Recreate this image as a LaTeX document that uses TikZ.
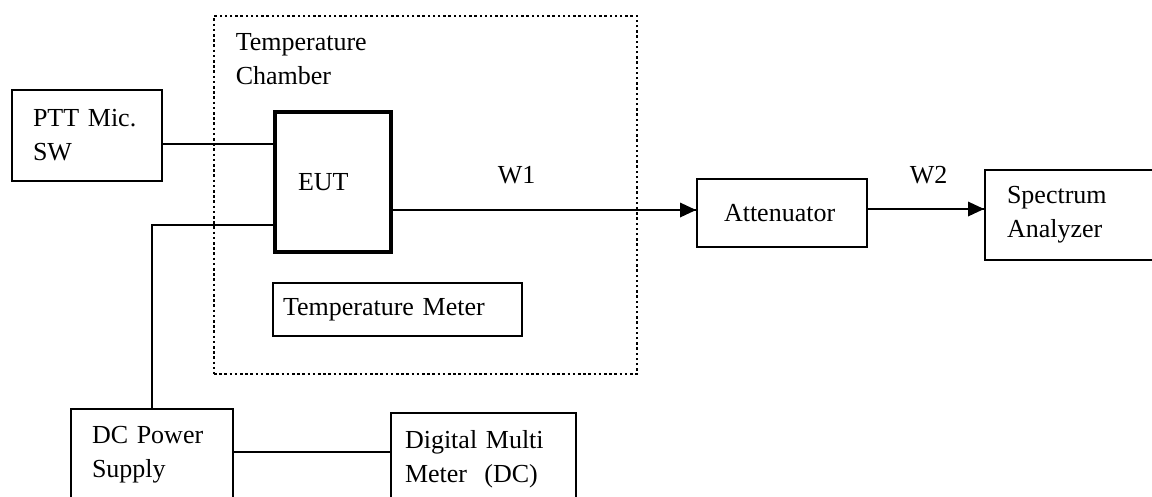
\documentclass[tikz,border=0pt]{standalone}
\usepackage{fontspec}
\setmainfont{Liberation Serif}
\usetikzlibrary{positioning}

\tikzset{every picture/.style={line width=1.5pt}}
\tikzset{
  unit/.style={draw, line width=2pt, anchor=north west, align=left, inner ysep=0pt},
  chamberbox/.style={draw, line width=2pt, dash pattern=on 2.5pt off 2.7pt, anchor=north west, inner sep=0pt},
  tag/.style={anchor=base west, inner sep=0pt},
}

\begin{document}
\begin{tikzpicture}[x=1pt,y=1pt,yscale=-1,font=\fontsize{26}{34}\selectfont]
\useasboundingbox (0,0) rectangle (1152,496);

%Temperature chamber (dotted frame)
\node (chamber) [chamberbox, minimum width=423pt, minimum height=358pt] at (213,15) {};
\node (chambertxt) [anchor=north west, inner sep=0pt, align=left] at ([xshift=22pt,yshift=18pt]chamber.north west) {Temperature\\Chamber};

%Boxes
\node (ptt) [unit, inner xsep=21pt, text width=108pt, minimum height=91pt] at (11,89) {PTT Mic.\\SW};
\node (eut) [unit, line width=4pt, inner xsep=23pt, text width=70pt, minimum height=140pt] at (273,110) {EUT};
\node (att) [unit, inner xsep=27pt, text width=116pt, minimum height=68pt] at (696,178) {Attenuator};
\node (sa) [unit, inner xsep=22pt, text width=156pt, minimum height=90pt] at (984,169) {Spectrum\\Analyzer};
\node (tmeter) [unit, inner xsep=10pt, text width=229pt, minimum height=53pt] at (272,282) {Temperature Meter};
\node (dc) [unit, inner xsep=21pt, text width=120pt, minimum height=92pt] at (70,408) {DC Power\\Supply};
\node (dmm) [unit, inner xsep=14pt, text width=157pt, minimum height=92pt] at (390,412) {Digital Multi\\Meter\ \ (DC)};

%Connectors
\draw ([yshift=8.5pt]ptt.east) coordinate (mic) -- (mic -| eut.west);
\draw ([yshift=43pt]eut.west) -| (dc.north);
\draw ([yshift=-3pt]dc.east) coordinate (dcv) -- (dcv -| dmm.west);

%W1 / W2 cables
\draw ([yshift=28pt]eut.east) coordinate (w1) -- (w1 -| att.west);
\fill (w1 -| att.west) -- ++(-16,-7.5) -- ++(0,15) -- cycle;
\draw ([yshift=-4pt]att.east) coordinate (w2) -- (w2 -| sa.west);
\fill (w2 -| sa.west) -- ++(-16,-7.5) -- ++(0,15) -- cycle;

% Text Node
\node (w1txt) [tag] at (497,183) {W1};
% Text Node
\node (w2txt) [tag] at (909,183) {W2};

\end{tikzpicture}
\end{document}
